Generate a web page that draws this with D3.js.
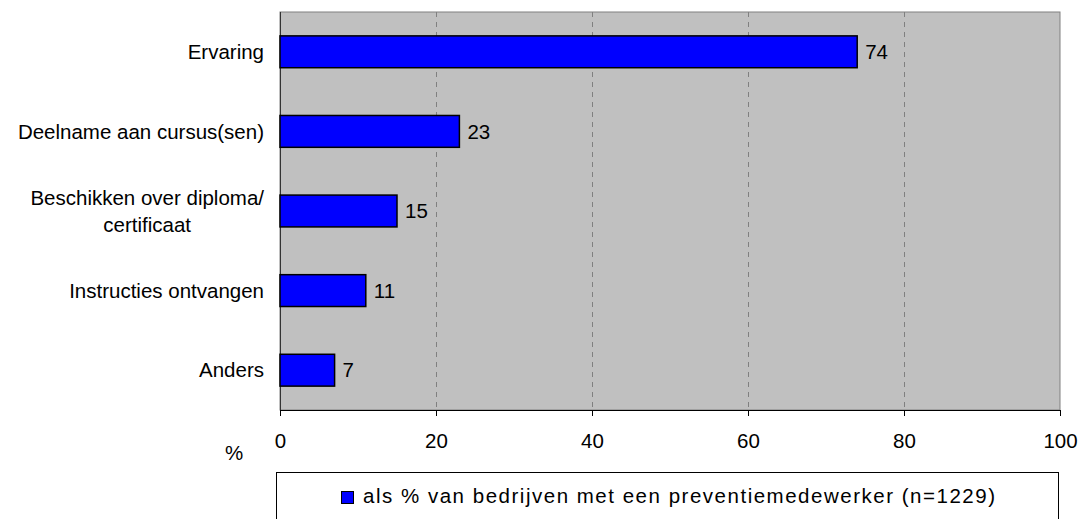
<!DOCTYPE html>
<html><head><meta charset="utf-8">
<script src="https://cdn.jsdelivr.net/npm/d3@7"></script>
<style>body{margin:0;background:#fff;} text{font-family:Arial,"Liberation Sans",sans-serif;}</style>
</head><body>
<svg id="c" width="1082" height="519"></svg>
<script>
const categories = [["Ervaring"],["Deelname aan cursus(sen)"],["Beschikken over diploma/","certificaat"],["Instructies ontvangen"],["Anders"]];
const values = [74, 23, 15, 11, 7];
const xTicks = [0, 20, 40, 60, 80, 100];
const legendLabel = "als % van bedrijven met een preventiemedewerker (n=1229)";
const axisUnit = "%";

const FS = 20.5;
const svg = d3.select("#c");
const m = {left:280, right:1060, top:12, bottom:410};
const x = d3.scaleLinear().domain([0,100]).range([m.left, m.right]);
const y = d3.scaleBand().domain(d3.range(categories.length)).range([m.top, m.bottom]).paddingInner(0.6).paddingOuter(0.3);

svg.append("rect").attr("x", m.left).attr("y", m.top).attr("width", m.right-m.left).attr("height", m.bottom-m.top)
  .attr("fill", "#c0c0c0").attr("stroke", "#808080").attr("stroke-width", 1);

// gridlines
svg.append("g").selectAll("line").data(xTicks.filter(t => t>0 && t<100)).join("line")
  .attr("x1", d=>Math.round(x(d))+0.5).attr("x2", d=>Math.round(x(d))+0.5)
  .attr("y1", m.top).attr("y2", m.bottom)
  .attr("stroke", "#808080").attr("stroke-dasharray", "5,5");

// x axis
const xa = svg.append("g").attr("transform", `translate(0,${m.bottom})`)
  .call(d3.axisBottom(x).tickValues(xTicks).tickSize(6).tickPadding(17).tickSizeOuter(0));
xa.select(".domain").attr("stroke", "#000");
xa.selectAll(".tick line").attr("stroke", "#000");
xa.selectAll("text").attr("font-size", FS).attr("fill", "#000").attr("font-family", "Arial, 'Liberation Sans', sans-serif");

// left axis line
svg.append("line").attr("x1", m.left+0.5).attr("x2", m.left+0.5).attr("y1", m.top).attr("y2", m.bottom)
  .attr("stroke", "#333");

// bars
svg.append("g").selectAll("rect").data(values).join("rect")
  .attr("x", x(0)).attr("y", (d,i)=>y(i)).attr("width", d=>x(d)-x(0)).attr("height", y.bandwidth())
  .attr("fill", "#0000ff").attr("stroke", "#000").attr("stroke-width", 1.5);

// value labels
svg.append("g").selectAll("text").data(values).join("text")
  .attr("x", d=>x(d)+8).attr("y", (d,i)=>y(i)+y.bandwidth()/2).attr("dy", "0.35em")
  .attr("font-size", FS).attr("fill", "#000").text(d=>d);

// category labels
const labelRight = 264;
categories.forEach((lines, i) => {
  const cy = y(i) + y.bandwidth()/2;
  const g = svg.append("g");
  const lh = 27;
  const ts = lines.map((l, j) => g.append("text").attr("font-size", FS).attr("fill", "#000")
    .attr("text-anchor", "middle").attr("dy", "0.35em")
    .attr("y", cy + (j - (lines.length-1)/2) * lh).text(l));
  const maxW = d3.max(ts, t => t.node().getComputedTextLength());
  ts.forEach(t => t.attr("x", labelRight - maxW/2));
});

// unit label
svg.append("text").attr("x", 234).attr("y", 453).attr("dy", "0.35em").attr("text-anchor", "middle")
  .attr("font-size", FS).attr("fill", "#000").text(axisUnit);

// legend
svg.append("rect").attr("x", 276.5).attr("y", 472.5).attr("width", 782).attr("height", 60)
  .attr("fill", "#fff").attr("stroke", "#000");
svg.append("rect").attr("x", 341.5).attr("y", 491.5).attr("width", 12).attr("height", 12)
  .attr("fill", "#0000ff").attr("stroke", "#000");
svg.append("text").attr("x", 363).attr("y", 503).attr("font-size", FS).attr("fill", "#000")
  .attr("textLength", 632).attr("lengthAdjust", "spacing").text(legendLabel);
</script>
</body></html>
